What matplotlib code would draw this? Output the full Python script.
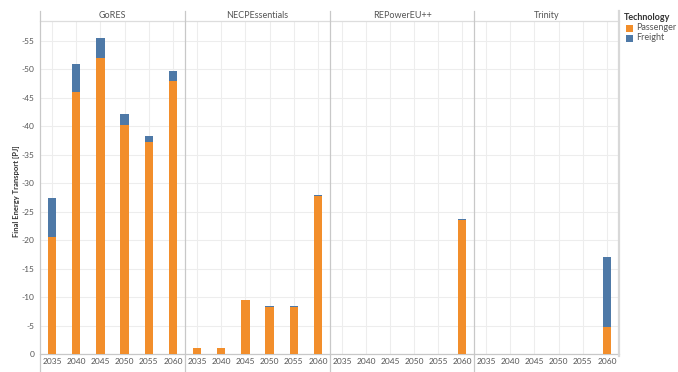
import matplotlib
matplotlib.use("Agg")
import matplotlib.pyplot as plt
from matplotlib.lines import Line2D
from matplotlib.patches import Rectangle

plt.rcParams['axes.unicode_minus'] = False
plt.rcParams['font.family'] = ['Lato', 'DejaVu Sans']

scenarios = ["GoRES", "NECPEssentials", "REPowerEU++", "Trinity"]
years = ["2035", "2040", "2045", "2050", "2055", "2060"]
technologies = ["Passenger", "Freight"]
colors = {"Passenger": "#f28e2b", "Freight": "#4e79a7"}

passenger = {
    "GoRES":          [-20.6, -46.0, -52.0, -40.2, -37.3, -48.0],
    "NECPEssentials": [-1.0, -1.0, -9.5, -8.2, -8.2, -27.7],
    "REPowerEU++":    [0, 0, 0, 0, 0, -23.5],
    "Trinity":        [0, 0, 0, 0, 0, -4.7],
}
freight = {
    "GoRES":          [-6.8, -5.0, -3.5, -2.0, -1.0, -1.7],
    "NECPEssentials": [0, 0, 0, -0.2, -0.2, -0.2],
    "REPowerEU++":    [0, 0, 0, 0, 0, -0.2],
    "Trinity":        [0, 0, 0, 0, 0, -12.3],
}
y_ticks = [0, -5, -10, -15, -20, -25, -30, -35, -40, -45, -50, -55]
y_label = "Final Energy Transport [PJ]"
legend_title = "Technology"

W, H = 678, 372
fig = plt.figure(figsize=(W / 100, H / 100), dpi=100)

def fx(px):
    return px / W

def fy(py):
    return 1 - py / H

panel_x = [40, 185, 330, 474, 619]
plot_top, plot_bot, head_top = 21, 354, 11
grid_c = "#ededed"
div_c = "#c8c8c8"
txt_c = "#555555"

axes = []
for i, sc in enumerate(scenarios):
    x0, x1 = panel_x[i], panel_x[i + 1]
    ax = fig.add_axes([fx(x0), fy(plot_bot), fx(x1 - x0), (plot_bot - plot_top) / H])
    xs = list(range(len(years)))
    ax.bar(xs, passenger[sc], width=0.35, color=colors["Passenger"], zorder=3)
    ax.bar(xs, freight[sc], width=0.35, bottom=passenger[sc], color=colors["Freight"], zorder=3)
    ax.set_xlim(-0.5, len(years) - 0.5)
    ax.set_ylim(0, -58.5)
    ax.set_yticks(y_ticks)
    ax.set_xticks(xs)
    ax.set_xticklabels(years, fontsize=6, color=txt_c)
    for t in y_ticks:
        ax.axhline(t, color=grid_c, lw=0.8, zorder=1)
    for x in xs:
        ax.axvline(x, color=grid_c, lw=0.8, zorder=1)
    for s in ["top", "right", "left"]:
        ax.spines[s].set_visible(False)
    ax.spines["bottom"].set_color(div_c)
    ax.spines["bottom"].set_linewidth(0.9)
    ax.tick_params(axis="both", length=0, pad=3)
    if i == 0:
        ax.set_yticklabels([f"{t:g}" for t in y_ticks], fontsize=6, color=txt_c)
        ax.tick_params(axis="y", pad=4)
        ax.set_ylabel(y_label, fontsize=5.5, fontweight="bold", color="#333333")
        ax.yaxis.set_label_coords(-20 / (x1 - x0), 0.49)
    else:
        ax.set_yticklabels([])
    ax.set_facecolor("none")
    fig.text(fx((x0 + x1) / 2), fy((head_top + plot_top) / 2), sc,
             ha="center", va="center", fontsize=6.5, color=txt_c)
    axes.append(ax)

# Header bottom line
fig.add_artist(Line2D([fx(40), fx(619)], [fy(plot_top), fy(plot_top)],
                      color="#dddddd", lw=0.9, transform=fig.transFigure))
# Panel dividers
for i, x in enumerate(panel_x):
    last = i == len(panel_x) - 1
    fig.add_artist(Line2D([fx(x), fx(x)], [fy(head_top), fy(plot_bot + 2) if last else fy(H)],
                          color="#d8d8d8" if last else div_c, lw=1.6 if last else 0.9,
                          transform=fig.transFigure))

# Legend
fig.text(fx(624), fy(18), legend_title, fontsize=6.5, fontweight="bold",
         color="#333333", ha="left", va="center")
for k, tech in enumerate(technologies):
    yc = 28 + 10 * k
    fig.add_artist(Rectangle((fx(625.5), fy(yc + 3.5)), fx(7), 7 / H,
                             facecolor=colors[tech], edgecolor="none",
                             transform=fig.transFigure))
    fig.text(fx(636), fy(yc), tech, fontsize=6.5, color=txt_c, ha="left", va="center")

fig.savefig("out.png", dpi=100)
